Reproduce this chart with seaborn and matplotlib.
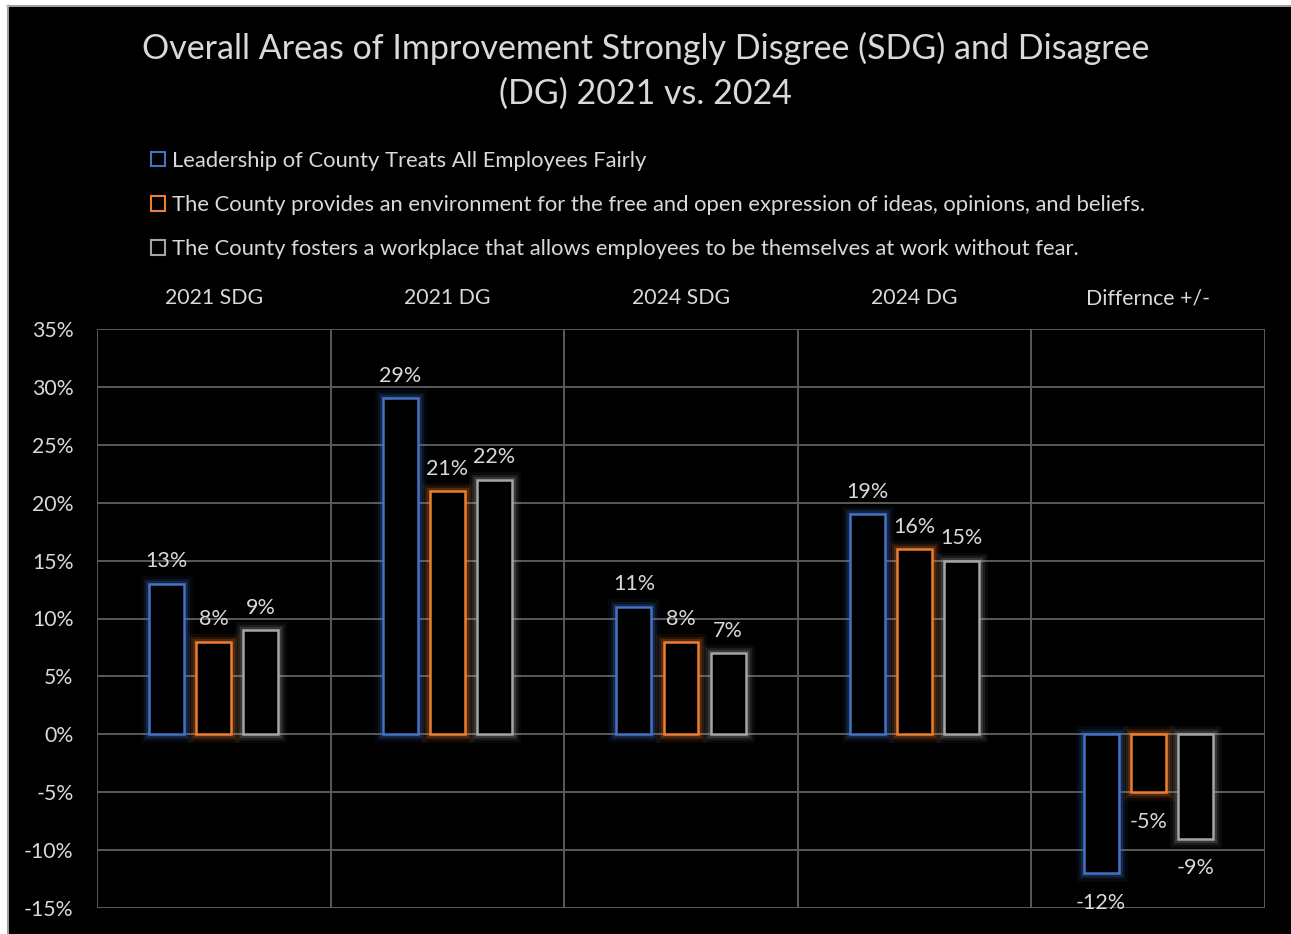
import pandas as pd
import numpy as np
import matplotlib.pyplot as plt
import matplotlib.ticker as ticker
import matplotlib.patheffects as pe
from matplotlib.patches import Rectangle
import seaborn as sns

categories = ['2021 SDG', '2021 DG', '2024 SDG', '2024 DG', 'Differnce +/-']
series = [
    'Leadership of County Treats All Employees Fairly',
    'The County provides an environment for the free and open expression of ideas, opinions, and beliefs.',
    'The County fosters a workplace that allows employees to be themselves at work without fear.',
]
leadership = [13, 29, 11, 19, -12]
expression = [8, 21, 8, 16, -5]
workplace = [9, 22, 7, 15, -9]
colors = ['#4472C4', '#ED7D31', '#A5A5A5']
TEXT = '#D9D9D9'
GRID = '#5A5A5A'

df = pd.DataFrame({
    'category': categories * 3,
    'series': [series[0]] * 5 + [series[1]] * 5 + [series[2]] * 5,
    'value': leadership + expression + workplace,
})

sns.set_style('dark')
plt.rcParams['font.family'] = ['Lato', 'DejaVu Sans']

fig = plt.figure(figsize=(12.91, 9.34), dpi=100, facecolor='black')
ax = fig.add_axes([97 / 1291, 1 - 908 / 934, (1265 - 97) / 1291, (908 - 329) / 934])
ax.set_facecolor('black')

sns.barplot(data=df, x='category', y='value', hue='series', palette=colors,
            width=0.605, gap=0.26, ax=ax, legend=False, order=categories,
            hue_order=series)

for cont, c in zip(ax.containers, colors):
    for bar in cont:
        bar.set_facecolor('black')
        bar.set_edgecolor(c)
        bar.set_linewidth(1.8)
        bar.set_path_effects([
            pe.Stroke(linewidth=12, foreground=c, alpha=0.07),
            pe.Stroke(linewidth=8, foreground=c, alpha=0.12),
            pe.Stroke(linewidth=5, foreground=c, alpha=0.2),
            pe.Normal(),
        ])
    vals = cont.datavalues
    pos = [f'{int(v)}%' if v >= 0 else '' for v in vals]
    neg = [f'{int(v)}%' if v < 0 else '' for v in vals]
    ax.bar_label(cont, labels=pos, padding=9, color=TEXT, fontsize=15.5)
    ax.bar_label(cont, labels=neg, padding=14, color=TEXT, fontsize=15.5)

ax.set_ylim(-15, 35)
ax.set_xlim(-0.5, 4.5)
ax.yaxis.set_major_locator(ticker.MultipleLocator(5))
ax.yaxis.set_major_formatter(ticker.FuncFormatter(lambda v, _: f'{int(round(v))}%'))
ax.xaxis.set_minor_locator(ticker.FixedLocator(np.arange(-0.5, 5, 1)))
ax.xaxis.tick_top()
ax.tick_params(axis='x', which='both', length=0, colors=TEXT, labelsize=15.3, pad=15)
ax.tick_params(axis='y', length=0, colors=TEXT, labelsize=15.3, pad=17)
ax.grid(True, axis='y', which='major', color=GRID, linewidth=1.4)
ax.grid(True, axis='x', which='minor', color=GRID, linewidth=1.4)
ax.grid(False, axis='x', which='major')
ax.set_axisbelow(True)
for s in ax.spines.values():
    s.set_visible(False)
ax.set_xlabel('')
ax.set_ylabel('')

fig.text(0.5, 1 - 71 / 934,
         'Overall Areas of Improvement Strongly Disgree (SDG) and Disagree\n(DG) 2021 vs. 2024',
         ha='center', va='center', color=TEXT, fontsize=24.5, linespacing=1.5)

handles = [Rectangle((0, 0), 1, 1, facecolor='black', edgecolor=c, linewidth=1.5)
           for c in colors]
leg = fig.legend(handles, series, loc='upper left', bbox_to_anchor=(131 / 1291, 1 - 131 / 934),
                 frameon=False, fontsize=15.8, labelcolor=TEXT, handlelength=0.65,
                 handleheight=0.65, handletextpad=0.3, labelspacing=1.1)

# outer frame strip
fig.patches.append(Rectangle((0, 0), 7 / 1291, 1, transform=fig.transFigure,
                             facecolor='white', edgecolor='none'))
fig.patches.append(Rectangle((0, 1 - 5 / 934), 1, 5 / 934, transform=fig.transFigure,
                             facecolor='white', edgecolor='none'))
fig.lines.append(plt.Line2D([7.5 / 1291, 7.5 / 1291], [0, 1 - 5 / 934], transform=fig.transFigure,
                            color='#BFBFBF', linewidth=1.2))
fig.lines.append(plt.Line2D([7 / 1291, 1], [1 - 5.5 / 934, 1 - 5.5 / 934], transform=fig.transFigure,
                            color='#BFBFBF', linewidth=1.2))

fig.savefig('out.png', dpi=100, facecolor='black')
